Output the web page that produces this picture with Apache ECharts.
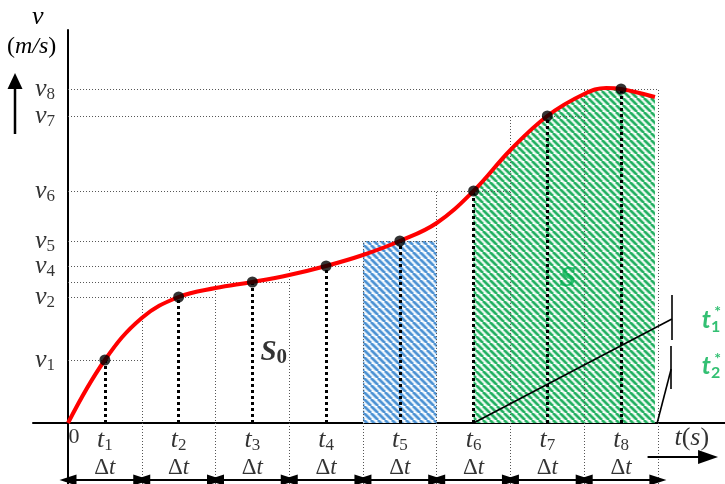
<!DOCTYPE html>
<html>
<head>
<meta charset="utf-8">
<script src="https://cdn.jsdelivr.net/npm/echarts@6/dist/echarts.min.js"></script>
<style>
html, body { margin: 0; padding: 0; background: #fff; }
#main { width: 725px; height: 484px; }
</style>
</head>
<body>
<div id="main"></div>
<script>
// time in units of Δt: boundary k sits at x = k, t_k in the middle of its interval
var tMid = [0.5, 1.5, 2.5, 3.5, 4.5, 5.5, 6.5, 7.5];
var bounds = [1, 2, 3, 4, 5, 6, 7, 8];
var vPts = [6.3, 12.6, 14.1, 15.7, 18.2, 23.2, 30.7, 33.4];
var vTicks = [6.3, 12.6, 15.7, 18.2, 23.2, 30.7, 33.4]; // v3 has no label
// red curve v(t)
var curveT = [0, 0.5, 1, 1.5, 2, 2.5, 3, 3.5, 4, 4.5, 5, 5.5, 6, 6.5, 7, 7.3, 7.5, 7.96];
var curveV = [0, 6.3, 10.5, 12.6, 13.5, 14.1, 14.8, 15.7, 16.8, 18.2, 20.0, 23.2, 27.3, 30.7, 32.9, 33.5, 33.4, 32.6];
// black lines pointing at t1* and t2*
var braceLines = [
    [[5.5, 0], [8.19, 10.4]],
    [[8.19, 12.8], [8.19, 8.3]],
    [[8.18, 7.7], [8.18, 3.4]],
    [[7.99, 0], [8.18, 5.4]]
];

var yMin = -6.1, yMax = 39.3;
var serif = 'Liberation Serif';
var green = '#00b050';

// diagonal hatch fill
function hatch(light, dark) {
    var c = document.createElement('canvas');
    c.width = c.height = 7;
    var g = c.getContext('2d');
    g.fillStyle = '#fff';
    g.fillRect(0, 0, 7, 7);
    [[light, 4], [dark, 2]].forEach(function (p) {
        g.strokeStyle = p[0];
        g.lineWidth = p[1];
        for (var k = -1; k <= 1; k++) {
            g.beginPath();
            g.moveTo(k * 7, 0);
            g.lineTo(k * 7 + 7, 7);
            g.stroke();
        }
    });
    return { image: c, repeat: 'repeat' };
}

function seg(a, b) { return [{ coord: a }, { coord: b }]; }

var curve = curveT.map(function (t, i) { return [t, curveV[i]]; });
var greenPart = curve.slice(curveT.indexOf(5.5));
var points = tMid.map(function (t, i) { return [t, vPts[i]]; });

var guideH = vPts.map(function (v, i) { return seg([0, v], [bounds[i], v]); });
var guideV = bounds.map(function (b, i) {
    var top = i < 7 ? vPts[i + 1] : vPts[7];
    return seg([b, yMin], [b, top]);
});
var stems = tMid.map(function (t, i) { return seg([t, 0], [t, vPts[i]]); });
var dtArrows = bounds.map(function (b) { return seg([b - 1, -5.7], [b, -5.7]); });

var rich = {
    t: { fontFamily: serif, fontStyle: 'italic', fontSize: 26, lineHeight: 28, color: '#000' },
    s: { fontFamily: serif, fontSize: 17, lineHeight: 18, color: '#000', padding: [12, 0, 0, 0] },
    d: { fontFamily: serif, fontSize: 23, lineHeight: 26, color: '#000' },
    i: { fontFamily: serif, fontStyle: 'italic', fontSize: 23, lineHeight: 26, color: '#000' }
};

// tick-like labels, placed on the axes through the library's scales
var tLabels = tMid.map(function (t, i) {
    return { value: [t, 0], label: { position: 'bottom', distance: 3, formatter: '{t|t}{s|' + (i + 1) + '}' } };
});
var dtLabels = tMid.map(function (t) {
    return { value: [t, 0], label: { position: 'bottom', distance: 32, formatter: '{d|Δ}{i|t}' } };
});
var vLabels = vTicks.map(function (v) {
    return { value: [0, v], label: { position: 'left', distance: 13, formatter: '{t|v}{s|' + (vPts.indexOf(v) + 1) + '}' } };
});

var chart = echarts.init(document.getElementById('main'));

var option = {
    animation: false,
    textStyle: { fontFamily: serif },
    grid: { left: 33, right: 0, top: 30, bottom: 0, outerBoundsMode: 'none' },
    xAxis: {
        type: 'value',
        min: -0.475,
        max: 8.91,
        axisLine: { onZero: true, lineStyle: { color: '#000', width: 2 } },
        axisTick: { show: false },
        splitLine: { show: false },
        axisLabel: { show: false }
    },
    yAxis: {
        type: 'value',
        min: yMin,
        max: yMax,
        axisLine: { onZero: true, lineStyle: { color: '#000', width: 2 } },
        axisTick: { show: false },
        splitLine: { show: false },
        axisLabel: { show: false }
    },
    series: [
        {
            // blue strip for the 5th interval
            type: 'line', data: [], z: 1, silent: true,
            markArea: {
                silent: true,
                itemStyle: { color: hatch('#b3d3f0', '#4a90d2') },
                data: [[{ coord: [4, 0] }, { coord: [5, vPts[4]] }]]
            }
        },
        {
            // green area under the curve from t6
            type: 'line', data: greenPart, z: 2, silent: true,
            smooth: 0.4, showSymbol: false,
            lineStyle: { width: 0 },
            areaStyle: { color: hatch('#a6e3c0', '#1fae5e'), opacity: 1 }
        },
        {
            type: 'line', data: [], z: 3, silent: true,
            markLine: {
                silent: true, symbol: ['none', 'none'], label: { show: false },
                lineStyle: { color: '#555', width: 1, type: [1, 2] },
                data: guideH.concat(guideV)
            }
        },
        {
            type: 'line', data: [], z: 4, silent: true,
            markLine: {
                silent: true, symbol: ['none', 'none'], label: { show: false },
                lineStyle: { color: '#000', width: 3, type: [3, 3] },
                data: stems
            }
        },
        {
            type: 'line', data: curve, z: 5, silent: true,
            smooth: 0.4, showSymbol: false,
            lineStyle: { color: '#ff0000', width: 4 }
        },
        {
            type: 'scatter', data: points, z: 6, silent: true,
            symbolSize: 11, itemStyle: { color: '#000' }
        },
        {
            type: 'line', data: [], z: 6, silent: true,
            markLine: {
                silent: true, label: { show: false },
                symbol: ['triangle', 'triangle'], symbolSize: [11, 17],
                lineStyle: { color: '#000', width: 2, type: 'solid' },
                data: dtArrows.concat([
                    [{ coord: [7.86, -3.4], symbol: 'none' },
                     { coord: [8.68, -3.4], symbol: 'triangle', symbolSize: [14, 20] }]
                ])
            }
        },
        {
            type: 'line', data: [], z: 6, silent: true,
            markLine: {
                silent: true, label: { show: false }, symbol: ['none', 'none'],
                lineStyle: { color: '#000', width: 1.6, type: 'solid' },
                data: braceLines.map(function (s) { return seg(s[0], s[1]); })
            }
        },
        {
            // axis labels
            type: 'scatter', z: 7, silent: true, symbolSize: 0,
            label: { show: true, color: '#000', fontFamily: serif, rich: rich },
            data: tLabels.concat(dtLabels, vLabels, [
                { value: [0, 0], label: { position: 'bottom', distance: 3, offset: [6, 0], formatter: '0', fontSize: 22, lineHeight: 22 } }
            ])
        },
        {
            // annotations
            type: 'scatter', z: 7, silent: true, symbolSize: 0,
            label: { show: true, position: 'inside' },
            data: [
                { value: [6.78, 14.5], label: { formatter: '{a|S}', rich: {
                    a: { fontFamily: serif, fontStyle: 'italic', fontWeight: 'bold', fontSize: 30, color: green } } } },
                { value: [2.79, 7.0], label: { formatter: '{a|S}{b|0}', rich: {
                    a: { fontFamily: serif, fontStyle: 'italic', fontWeight: 'bold', fontSize: 29, color: '#000' },
                    b: { fontFamily: serif, fontWeight: 'bold', fontSize: 21, color: '#000', padding: [10, 0, 0, 0] } } } },
                { value: [8.72, 10.3], label: { formatter: '{a|t}{b|1}', rich: {
                    a: { fontFamily: 'Lato', fontStyle: 'italic', fontWeight: 'bold', fontSize: 25, color: green },
                    b: { fontFamily: 'Lato', fontWeight: 'bold', fontSize: 16, color: green, padding: [14, 0, 0, 0] } } } },
                { value: [8.81, 11.1], label: { formatter: '*', fontFamily: 'Lato', fontWeight: 'bold', fontSize: 16, color: green } },
                { value: [8.72, 5.7], label: { formatter: '{a|t}{b|2}', rich: {
                    a: { fontFamily: 'Lato', fontStyle: 'italic', fontWeight: 'bold', fontSize: 25, color: green },
                    b: { fontFamily: 'Lato', fontWeight: 'bold', fontSize: 16, color: green, padding: [14, 0, 0, 0] } } } },
                { value: [8.81, 6.4], label: { formatter: '*', fontFamily: 'Lato', fontWeight: 'bold', fontSize: 16, color: green } },
                { value: [8.46, -1.5], label: { formatter: '{a|t}{b|(}{a|s}{b|)}', rich: {
                    a: { fontFamily: serif, fontStyle: 'italic', fontSize: 26, color: '#000' },
                    b: { fontFamily: serif, fontSize: 26, color: '#000' } } } }
            ]
        }
    ],
    graphic: [
        { type: 'text', left: 32, top: 4, style: { text: 'v', fontFamily: serif, fontStyle: 'italic', fontSize: 26, fill: '#000' } },
        { type: 'text', left: 7, top: 35, style: { text: '{b|(}{a|m/s}{b|)}', rich: {
            a: { fontFamily: serif, fontStyle: 'italic', fontSize: 24, fill: '#000' },
            b: { fontFamily: serif, fontSize: 24, fill: '#000' } } } },
        { type: 'line', shape: { x1: 15, y1: 134, x2: 15, y2: 86 }, style: { stroke: '#000', lineWidth: 2.5 } },
        { type: 'polygon', shape: { points: [[15, 73], [7.5, 89], [22.5, 89]] }, style: { fill: '#000' } }
    ]
};

chart.setOption(option);
</script>
</body>
</html>
